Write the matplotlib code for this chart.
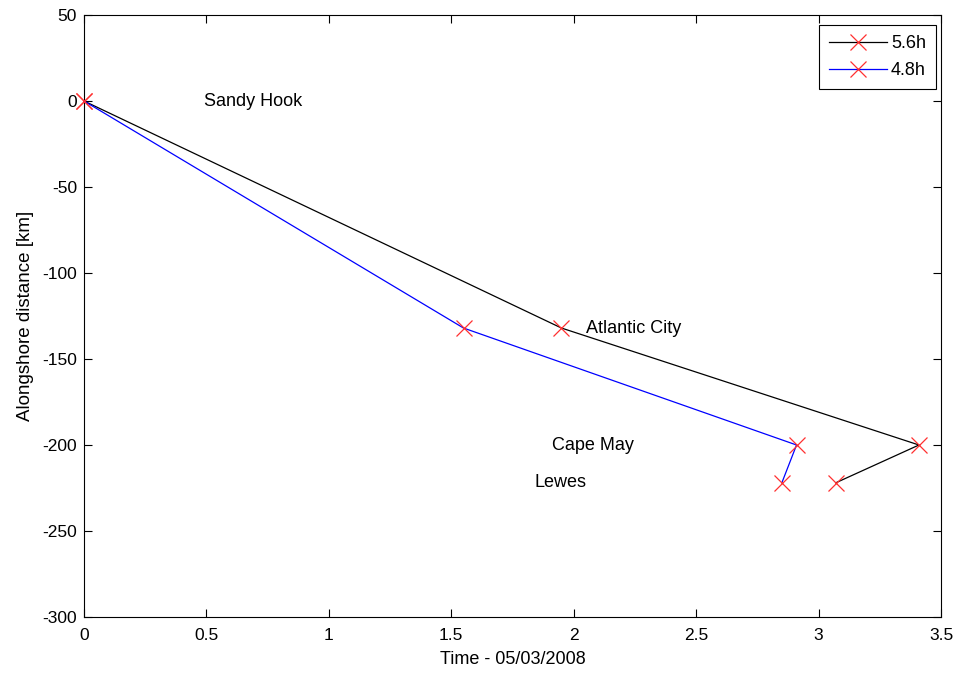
import matplotlib
matplotlib.use("Agg")
import matplotlib.pyplot as plt

# Arrival time (days) and alongshore distance (km) per station
t_56 = [0.0, 1.95, 3.41, 3.07]
t_48 = [0.0, 1.55, 2.91, 2.85]
dist = [0.0, -132.0, -200.0, -222.0]

stations = ["Sandy Hook", "Atlantic City", "Cape May", "Lewes"]
label_x = [0.49, 2.05, 1.91, 1.84]
label_y = [0.0, -132.0, -200.0, -222.0]

xticks = [0, 0.5, 1, 1.5, 2, 2.5, 3, 3.5]
xticklabels = ["0", "0.5", "1", "1.5", "2", "2.5", "3", "3.5"]
yticks = [50, 0, -50, -100, -150, -200, -250, -300]

plt.rcParams["font.family"] = ["Liberation Sans", "DejaVu Sans"]
plt.rcParams["font.size"] = 13
plt.rcParams["axes.unicode_minus"] = False

fig = plt.figure(figsize=(9.59, 6.75), dpi=100)
ax = fig.add_axes([84 / 959, 58 / 675, 857 / 959, 602 / 675])

mk = dict(marker="x", markersize=11, markeredgecolor="#ff3030",
          markerfacecolor="none", markeredgewidth=0.9, clip_on=False)
ax.plot(t_56, dist, color="black", lw=0.9, label="5.6h", zorder=3, **mk)
ax.plot(t_48, dist, color="blue", lw=0.9, label="4.8h", zorder=3, **mk)

for name, x, y in zip(stations, label_x, label_y):
    ax.text(x, y, name, ha="left", va="center", fontsize=13)

ax.set_xlim(0, 3.5)
ax.set_ylim(-300, 50)
ax.set_xticks(xticks)
ax.set_xticklabels(xticklabels)
ax.set_yticks(yticks)
ax.tick_params(direction="in", top=True, right=True, length=6, width=0.8,
               labelsize=12.5)
ax.tick_params(axis="x", pad=8)
ax.tick_params(axis="y", pad=5)
for s in ax.spines.values():
    s.set_linewidth(0.8)

ax.set_xlabel("Time - 05/03/2008", fontsize=13, labelpad=6)
ax.set_ylabel("Alongshore distance [km]", fontsize=13.5, labelpad=6)

leg = ax.legend(loc="upper right", fontsize=13, fancybox=False,
                edgecolor="black", framealpha=1, borderpad=0.55,
                handlelength=3.2, labelspacing=0.55, handletextpad=0.25,
                borderaxespad=0, bbox_to_anchor=(0.9942, 0.9834))
leg.get_frame().set_linewidth(0.8)

fig.savefig("out.png", dpi=100)
